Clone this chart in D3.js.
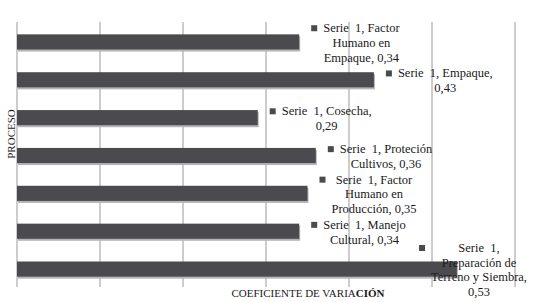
<!DOCTYPE html>
<html>
<head>
<meta charset="utf-8">
<script src="https://cdn.jsdelivr.net/npm/d3@7"></script>
<style>
	body { margin: 0; background: #fff; }
	text { font-family: "Liberation Serif", serif; fill: #1a1a1a; white-space: pre; }
</style>
</head>
<body>
<svg id="chart" width="535" height="302"></svg>
<script>
// values, top bar first
var categories = ["Factor Humano en Empaque", "Empaque", "Cosecha", "Proteción Cultivos",
	"Factor Humano en Producción", "Manejo Cultural", "Preparación de Terreno y Siembra"];
var values = [0.34, 0.43, 0.29, 0.36, 0.35, 0.34, 0.53];
var ticks = [0, 0.1, 0.2, 0.3, 0.4, 0.5, 0.6];
// data label text, broken the way the picture breaks it
var labelLines = [
	["Serie  1, Factor", "Humano en", "Empaque, 0,34"],
	["Serie  1, Empaque,", "0,43"],
	["Serie  1, Cosecha,", "0,29"],
	["Serie  1, Proteción", "Cultivos, 0,36"],
	["Serie  1, Factor", "Humano en", "Producción, 0,35"],
	["Serie  1, Manejo", "Cultural, 0,34"],
	["Serie  1,", "Preparación de", "Terreno y Siembra,", "0,53"]
];

var svg = d3.select("#chart");

var x = d3.scaleLinear()
			.domain([0, 0.6])
			.range([17, 515]);
var y = d3.scaleBand()
			.domain(categories)
			.range([23, 288])
			.paddingInner(0.6)
			.paddingOuter(0.3);

// vertical gridlines
svg.append("g")
	.selectAll("line")
	.data(ticks)
	.enter()
	.append("line")
	.attr("x1", function(d){ return x(d); })
	.attr("x2", function(d){ return x(d); })
	.attr("y1", 22)
	.attr("y2", 287)
	.attr("stroke", "#9a9a9a")
	.attr("stroke-width", 1);

var bars = svg.append("g")
	.selectAll("g")
	.data(categories)
	.enter()
	.append("g");

// soft shadow under each bar
bars.append("rect")
	.attr("x", x(0) + 1)
	.attr("y", function(d){ return y(d) + 2; })
	.attr("width", function(d, i){ return x(values[i]) - x(0); })
	.attr("height", y.bandwidth())
	.attr("fill", "#b4b4b6");

bars.append("rect")
	.attr("x", x(0))
	.attr("y", function(d){ return y(d); })
	.attr("width", function(d, i){ return x(values[i]) - x(0); })
	.attr("height", y.bandwidth())
	.attr("fill", "#4b4b4f");

// data labels: small key square + centred multi-line text
var lineH = 14.7;
var labels = svg.append("g")
	.selectAll("g")
	.data(categories)
	.enter()
	.append("g");

labels.each(function(d, i){
	var g = d3.select(this);
	var lines = labelLines[i];
	var cy = y(d) + y.bandwidth() / 2 + 1;
	var firstY = cy - (lines.length - 1) * lineH / 2;

	var t = g.append("text")
		.attr("font-size", "12.5px")
		.attr("text-anchor", "middle");
	lines.forEach(function(s, k){
		t.append("tspan")
			.attr("x", 0)
			.attr("y", firstY + k * lineH + 4)
			.text(s);
	});
	var maxW = 0;
	t.selectAll("tspan").each(function(){
		maxW = Math.max(maxW, this.getComputedTextLength());
	});

	var keyX = x(values[i]) + 15;
	if(keyX + 9 + maxW > 527) keyX = 527 - 9 - maxW;
	t.selectAll("tspan").attr("x", keyX + 9 + maxW / 2);

	g.append("rect")
		.attr("x", keyX - 3)
		.attr("y", firstY - 3)
		.attr("width", 6)
		.attr("height", 6)
		.attr("fill", "#4b4b4f");
});

// axis titles
svg.append("text")
	.attr("transform", "translate(15,134) rotate(-90)")
	.attr("text-anchor", "middle")
	.attr("font-size", "11px")
	.text("PROCESO");

var xt = svg.append("text")
	.attr("x", 308)
	.attr("y", 297)
	.attr("text-anchor", "middle")
	.attr("font-size", "11px");
xt.append("tspan").text("COEFICIENTE DE VARIA");
xt.append("tspan").attr("font-weight", "bold").text("CIÓN");
</script>
</body>
</html>
